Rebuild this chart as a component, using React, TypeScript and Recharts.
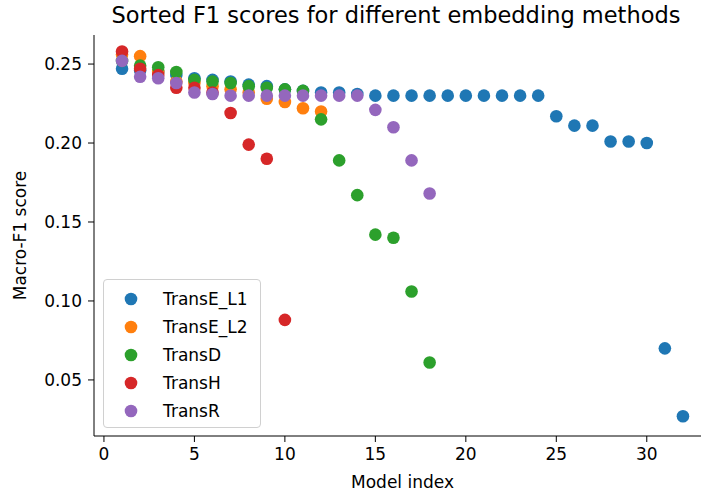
import React from 'react';
import { ScatterChart, Scatter, XAxis, YAxis } from 'recharts';

// Sorted Macro-F1 scores per embedding method (index = model rank, starting at 1)
const transE_L1 = [
  0.247, 0.246, 0.245, 0.243, 0.241, 0.240, 0.239, 0.237, 0.236, 0.234,
  0.233, 0.232, 0.232, 0.231, 0.230, 0.230, 0.230, 0.230, 0.230, 0.230,
  0.230, 0.230, 0.230, 0.230, 0.217, 0.211, 0.211, 0.201, 0.201, 0.200,
  0.070, 0.027,
];
const transE_L2 = [0.256, 0.255, 0.245, 0.239, 0.238, 0.236, 0.234, 0.232, 0.228, 0.226, 0.222, 0.220];
const transD = [
  0.252, 0.249, 0.248, 0.245, 0.240, 0.239, 0.238, 0.236, 0.235, 0.234,
  0.233, 0.215, 0.189, 0.167, 0.142, 0.140, 0.106, 0.061,
];
const transH = [0.258, 0.247, 0.243, 0.235, 0.235, 0.232, 0.219, 0.199, 0.190, 0.088];
const transR = [
  0.252, 0.242, 0.241, 0.238, 0.232, 0.231, 0.230, 0.230, 0.230, 0.230,
  0.230, 0.230, 0.230, 0.230, 0.221, 0.210, 0.189, 0.168,
];

const seriesNames = ['TransE_L1', 'TransE_L2', 'TransD', 'TransH', 'TransR'];
const seriesColors = ['#1f77b4', '#ff7f0e', '#2ca02c', '#d62728', '#9467bd'];
const seriesValues = [transE_L1, transE_L2, transD, transH, transR];

const xTicks = [0, 5, 10, 15, 20, 25, 30];
const yTicks = [0.05, 0.1, 0.15, 0.2, 0.25];
const titleText = 'Sorted F1 scores for different embedding methods';
const xLabel = 'Model index';
const yLabel = 'Macro-F1 score';

const FONT = "'DejaVu Sans', sans-serif";
const TICK_FS = 17;
const DOT_R = 6.3;

const toPoints = (vals: number[]) => vals.map((v, i) => ({ x: i + 1, y: v }));

const LegendBox = () => (
  <div
    style={{
      position: 'absolute',
      left: 103,
      top: 279,
      width: 158,
      height: 149,
      border: '1px solid #d0d0d0',
      borderRadius: 4,
      background: 'rgba(255,255,255,0.8)',
      boxSizing: 'border-box',
      fontFamily: FONT,
      fontSize: TICK_FS,
      color: '#000',
    }}
  >
    {seriesNames.map((n, i) => (
      <div
        key={n}
        style={{ position: 'absolute', left: 0, top: 18.7 + i * 28.1 - 12, height: 24, width: 158 }}
      >
        <svg width={20} height={24} style={{ position: 'absolute', left: 17, top: 0 }}>
          <circle cx={10} cy={12} r={DOT_R} fill={seriesColors[i]} />
        </svg>
        <span style={{ position: 'absolute', left: 59, top: 1, lineHeight: '22px', whiteSpace: 'nowrap' }}>{n}</span>
      </div>
    ))}
  </div>
);

export default function App() {
  return (
    <div
      style={{
        position: 'absolute',
        left: 0,
        top: 0,
        width: 701,
        height: 493,
        overflow: 'hidden',
        background: '#fff',
        fontFamily: FONT,
      }}
    >
      <div
        style={{
          position: 'absolute',
          left: 94,
          width: 604,
          top: 1,
          textAlign: 'center',
          fontSize: 22.5,
          lineHeight: '28px',
          color: '#000',
          whiteSpace: 'nowrap',
        }}
      >
        {titleText}
      </div>
      <ScatterChart width={720} height={493} margin={{ top: 35, right: 9, bottom: 0, left: 0 }}>
        <XAxis
          xAxisId="top"
          orientation="top"
          type="number"
          dataKey="x"
          domain={[-0.55, 33.55]}
          height={0}
          tick={false}
          tickLine={false}
          axisLine={{ stroke: '#000', strokeWidth: 1 }}
          allowDataOverflow
        />
        <XAxis
          type="number"
          dataKey="x"
          domain={[-0.55, 33.55]}
          ticks={xTicks}
          height={57}
          allowDataOverflow
          axisLine={{ stroke: '#000', strokeWidth: 1 }}
          tickLine={{ stroke: '#000' }}
          tickSize={6}
          tickMargin={6}
          tick={{ fill: '#000', fontSize: TICK_FS, fontFamily: FONT }}
          label={{ value: xLabel, position: 'insideBottom', offset: 5, fill: '#000', fontSize: TICK_FS, fontFamily: FONT }}
        />
        <YAxis
          type="number"
          dataKey="y"
          domain={[0.0145, 0.2684]}
          ticks={yTicks}
          width={94}
          allowDataOverflow
          tickFormatter={(v: number) => v.toFixed(2)}
          axisLine={{ stroke: '#000', strokeWidth: 1 }}
          tickLine={{ stroke: '#000' }}
          tickSize={6}
          tickMargin={6}
          tick={{ fill: '#000', fontSize: TICK_FS, fontFamily: FONT }}
          label={{ value: yLabel, angle: -90, position: 'insideLeft', offset: 20, fill: '#000', fontSize: TICK_FS, fontFamily: FONT, style: { textAnchor: 'middle' } }}
        />
        {seriesValues.map((vals, i) => (
          <Scatter
            key={seriesNames[i]}
            name={seriesNames[i]}
            data={toPoints(vals)}
            fill={seriesColors[i]}
            isAnimationActive={false}
            shape={(p: any) => <circle cx={p.cx} cy={p.cy} r={DOT_R} fill={seriesColors[i]} />}
          />
        ))}
      </ScatterChart>
      <LegendBox />
    </div>
  );
}
